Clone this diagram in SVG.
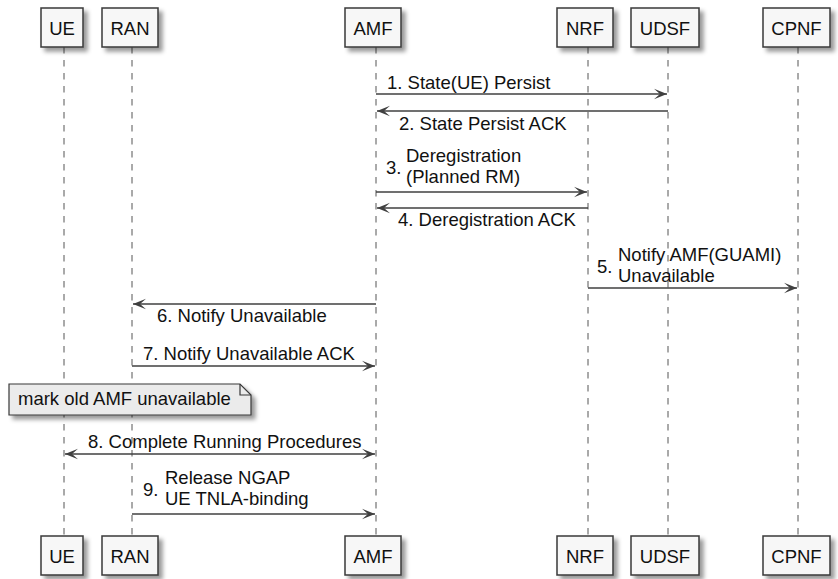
<svg xmlns="http://www.w3.org/2000/svg" width="838" height="579" viewBox="0 0 838 579">
  <style>
    text { font-family: "Liberation Sans", Arial, sans-serif; font-size: 18.5px; fill: #111; }
    .box { fill: #F7F7F7; stroke: #383838; stroke-width: 1.5; }
    .note { fill: #EBEBEB; stroke: #383838; stroke-width: 1.2; }
    .life { stroke: #555; stroke-width: 1; stroke-dasharray: 6.5 6.5; fill: none; }
    .msg { stroke: #404040; stroke-width: 1.4; fill: none; marker-end: url(#head); }
    .both { marker-start: url(#head); }
    .c { text-anchor: middle; }
  </style>
  <defs>
    <filter id="shadow" x="-20%" y="-20%" width="150%" height="160%">
      <feGaussianBlur in="SourceAlpha" stdDeviation="2"/>
      <feOffset dx="4" dy="4" result="b"/>
      <feFlood flood-color="#000" flood-opacity="0.4"/>
      <feComposite in2="b" operator="in"/>
      <feMerge><feMergeNode/><feMergeNode in="SourceGraphic"/></feMerge>
    </filter>
    <marker id="head" viewBox="-14 -6 15 12" refX="0" refY="0" markerWidth="15" markerHeight="12" markerUnits="userSpaceOnUse" orient="auto-start-reverse">
      <path d="M0,0 L-13,-5.2 L-7,0 L-13,5.2 Z" fill="#404040"/>
    </marker>
  </defs>

  <!-- lifelines -->
  <g id="lifelines">
    <line class="life" x1="64" y1="47" x2="64" y2="536"/>
    <line class="life" x1="132" y1="47" x2="132" y2="536"/>
    <line class="life" x1="376" y1="47" x2="376" y2="536"/>
    <line class="life" x1="588" y1="47" x2="588" y2="536"/>
    <line class="life" x1="668" y1="47" x2="668" y2="536"/>
    <line class="life" x1="798" y1="47" x2="798" y2="536"/>
  </g>

  <!-- participants, top and bottom -->
  <g id="UE">
    <rect class="box" x="41" y="8" width="42" height="39" filter="url(#shadow)"/>
    <text class="c" x="62" y="35">UE</text>
    <rect class="box" x="41" y="536" width="42" height="39" filter="url(#shadow)"/>
    <text class="c" x="62" y="563">UE</text>
  </g>
  <g id="RAN">
    <rect class="box" x="102" y="8" width="56" height="39" filter="url(#shadow)"/>
    <text class="c" x="130" y="35">RAN</text>
    <rect class="box" x="102" y="536" width="56" height="39" filter="url(#shadow)"/>
    <text class="c" x="130" y="563">RAN</text>
  </g>
  <g id="AMF">
    <rect class="box" x="345" y="8" width="56" height="39" filter="url(#shadow)"/>
    <text class="c" x="373" y="35">AMF</text>
    <rect class="box" x="345" y="536" width="56" height="39" filter="url(#shadow)"/>
    <text class="c" x="373" y="563">AMF</text>
  </g>
  <g id="NRF">
    <rect class="box" x="557" y="8" width="56" height="39" filter="url(#shadow)"/>
    <text class="c" x="585" y="35">NRF</text>
    <rect class="box" x="557" y="536" width="56" height="39" filter="url(#shadow)"/>
    <text class="c" x="585" y="563">NRF</text>
  </g>
  <g id="UDSF">
    <rect class="box" x="631" y="8" width="68" height="39" filter="url(#shadow)"/>
    <text class="c" x="665" y="35">UDSF</text>
    <rect class="box" x="631" y="536" width="68" height="39" filter="url(#shadow)"/>
    <text class="c" x="665" y="563">UDSF</text>
  </g>
  <g id="CPNF">
    <rect class="box" x="763" y="8" width="67" height="39" filter="url(#shadow)"/>
    <text class="c" x="796.5" y="35">CPNF</text>
    <rect class="box" x="763" y="536" width="67" height="39" filter="url(#shadow)"/>
    <text class="c" x="796.5" y="563">CPNF</text>
  </g>

  <!-- note -->
  <g id="note-mark">
    <path class="note" d="M9,384 H240 L251,395 V415 H9 Z" filter="url(#shadow)"/>
    <path d="M240,384 V395 H251" fill="none" stroke="#383838" stroke-width="1.2"/>
    <text x="18" y="405">mark old AMF unavailable</text>
  </g>

  <!-- messages -->
  <g id="connectors">
    <line class="msg" x1="376" y1="94" x2="667" y2="94"/>
    <line class="msg" x1="668" y1="111" x2="377" y2="111"/>
    <line class="msg" x1="376" y1="192" x2="587" y2="192"/>
    <line class="msg" x1="588" y1="208" x2="377" y2="208"/>
    <line class="msg" x1="588" y1="288" x2="797" y2="288"/>
    <line class="msg" x1="376" y1="304" x2="133" y2="304"/>
    <line class="msg" x1="132" y1="366" x2="375" y2="366"/>
    <line class="msg both" x1="65" y1="454" x2="375" y2="454"/>
    <line class="msg" x1="132" y1="514" x2="375" y2="514"/>
  </g>

  <g id="labels">
    <text x="387" y="89">1. State(UE) Persist</text>
    <text x="399" y="130">2. State Persist ACK</text>
    <text x="386" y="174">3.</text>
    <text x="406" y="162">Deregistration</text>
    <text x="406" y="183">(Planned RM)</text>
    <text x="398" y="226">4. Deregistration ACK</text>
    <text x="597" y="273">5.</text>
    <text x="618" y="261">Notify AMF(GUAMI)</text>
    <text x="618" y="282">Unavailable</text>
    <text x="157" y="322">6. Notify Unavailable</text>
    <text x="143" y="360">7. Notify Unavailable ACK</text>
    <text x="88" y="448">8. Complete Running Procedures</text>
    <text x="143" y="496">9.</text>
    <text x="165" y="484">Release NGAP</text>
    <text x="165" y="505">UE TNLA-binding</text>
  </g>
</svg>
